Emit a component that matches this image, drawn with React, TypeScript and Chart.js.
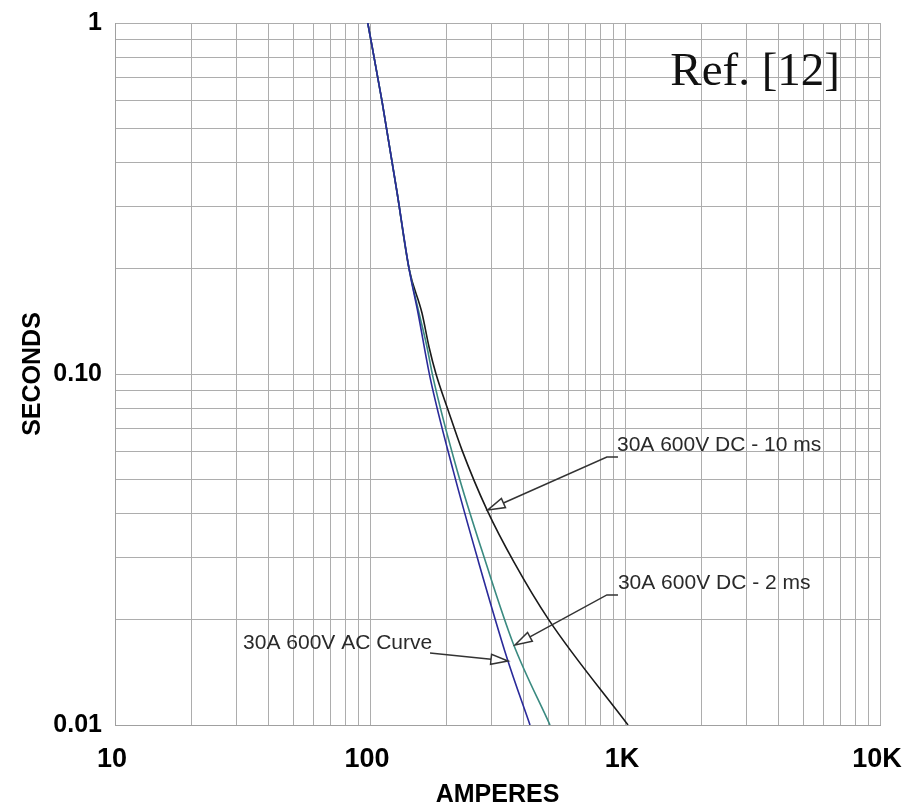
import React, { useEffect, useRef } from 'react';
import { Chart, registerables } from 'chart.js';

Chart.register(...registerables);

// ---- Axis grid values & labels ----
const xGridValues = [10, 20, 30, 40, 50, 60, 70, 80, 90, 100, 200, 300, 400, 500, 600, 700, 800, 900, 1000, 2000, 3000, 4000, 5000, 6000, 7000, 8000, 9000, 10000];
const xLabelValues = [10, 100, 1000, 10000];
const xLabelTexts = ['10', '100', '1K', '10K'];

const yGridValues = [0.01, 0.02, 0.03, 0.04, 0.05, 0.06, 0.07, 0.08, 0.09, 0.1, 0.2, 0.3, 0.4, 0.5, 0.6, 0.7, 0.8, 0.9, 1];
const yLabelValues = [0.01, 0.1, 1];
const yLabelTexts = ['0.01', '0.10', '1'];

// ---- Series: 30A 600V DC - 10 ms (black) ----
const dc10Amps = [98, 111.4, 127.6, 142.2, 159.9, 170.4, 181.5, 202.3, 229.5, 287.6, 367, 503.4, 1027.5];
const dc10Secs = [1, 0.6, 0.33, 0.2, 0.1492, 0.1194, 0.1, 0.079, 0.0607, 0.041, 0.0291, 0.0199, 0.01];

// ---- Series: 30A 600V DC - 2 ms (teal) ----
const dc2Amps = [98, 111.4, 127.6, 142.2, 155.7, 167.3, 176.6, 219.4, 282.5, 363.7, 508];
const dc2Secs = [1, 0.6, 0.33, 0.2, 0.1492, 0.1194, 0.098, 0.0533, 0.0295, 0.01713, 0.01];

// ---- Series: 30A 600V AC Curve (blue) ----
const acAmps = [98, 111.4, 127.6, 142.2, 154.3, 171.9, 211.6, 265.2, 344.5, 424.1];
const acSecs = [1, 0.6, 0.33, 0.2, 0.1492, 0.098, 0.0533, 0.0295, 0.01552, 0.01];

// ---- Annotations (data coordinates) ----
const annoLabels = ['30A 600V DC - 10 ms', '30A 600V DC - 2 ms', '30A 600V AC Curve'];
const annoTextAt = [[930, 0.0628], [938, 0.0254], [31.8, 0.01713]];
const annoPaths = [
  [[938.6, 0.058], [849, 0.058], [290, 0.041]],
  [[938.6, 0.02347], [849, 0.02347], [370.4, 0.0169]],
  [[171.9, 0.01604], [347.6, 0.01522]],
];

const refText = 'Ref. [12]';

function lookupLabel(v: number, vals: number[], texts: string[]) {
  for (let i = 0; i < vals.length; i++) {
    if (Math.abs(v - vals[i]) / vals[i] < 1e-6) return texts[i];
  }
  return '';
}

const toPts = (a: number[], s: number[]) => a.map((x, i) => ({ x, y: s[i] }));

const annotationPlugin = {
  id: 'annotations',
  afterDatasetsDraw(chart: any) {
    const { ctx, scales, chartArea } = chart;
    const xs = scales.x;
    const ys = scales.y;
    const P = (p: number[]) => [xs.getPixelForValue(p[0]), ys.getPixelForValue(p[1])];
    ctx.save();
    ctx.font = '21px "Liberation Sans", Arial, sans-serif';
    ctx.fillStyle = '#2a2a2a';
    ctx.textAlign = 'left';
    ctx.textBaseline = 'middle';
    annoLabels.forEach((lab, i) => {
      const [tx, ty] = P(annoTextAt[i]);
      ctx.fillText(lab, tx, ty);
      const pts = annoPaths[i].map(P);
      const tip = pts[pts.length - 1];
      const prev = pts[pts.length - 2];
      const dx = tip[0] - prev[0];
      const dy = tip[1] - prev[1];
      const len = Math.hypot(dx, dy);
      const ux = dx / len;
      const uy = dy / len;
      const headLen = 17;
      const halfW = 5;
      const bx = tip[0] - ux * headLen;
      const by = tip[1] - uy * headLen;
      ctx.strokeStyle = '#333';
      ctx.lineWidth = 1.5;
      ctx.beginPath();
      ctx.moveTo(pts[0][0], pts[0][1]);
      for (let k = 1; k < pts.length - 1; k++) ctx.lineTo(pts[k][0], pts[k][1]);
      ctx.lineTo(bx, by);
      ctx.stroke();
      ctx.beginPath();
      ctx.moveTo(tip[0], tip[1]);
      ctx.lineTo(bx - uy * halfW, by + ux * halfW);
      ctx.lineTo(bx + uy * halfW, by - ux * halfW);
      ctx.closePath();
      ctx.fillStyle = '#fff';
      ctx.fill();
      ctx.stroke();
      ctx.fillStyle = '#2a2a2a';
    });
    ctx.font = '47px "Liberation Serif", "Times New Roman", serif';
    ctx.fillStyle = '#111';
    ctx.textAlign = 'right';
    ctx.textBaseline = 'alphabetic';
    ctx.fillText(refText, chartArea.right - 40, chartArea.top + 62);
    ctx.restore();
  },
};

export default function App() {
  const ref = useRef<HTMLCanvasElement>(null);
  useEffect(() => {
    if (!ref.current) return;
    const gridColor = '#adadad';
    const chart = new Chart(ref.current, {
      type: 'scatter',
      data: {
        datasets: [
          {
            label: '30A 600V AC Curve',
            data: toPts(acAmps, acSecs),
            borderColor: '#2a2a9a',
            borderWidth: 1.6,
            showLine: true,
            pointRadius: 0,
            cubicInterpolationMode: 'monotone',
          },
          {
            label: '30A 600V DC - 2 ms',
            data: toPts(dc2Amps, dc2Secs),
            borderColor: '#3a8a80',
            borderWidth: 1.6,
            showLine: true,
            pointRadius: 0,
            cubicInterpolationMode: 'monotone',
          },
          {
            label: '30A 600V DC - 10 ms',
            data: toPts(dc10Amps, dc10Secs),
            borderColor: '#1a1a1a',
            borderWidth: 1.6,
            showLine: true,
            pointRadius: 0,
            cubicInterpolationMode: 'monotone',
          },
        ],
      },
      options: {
        animation: false,
        responsive: false,
        devicePixelRatio: 1,
        layout: { padding: { top: 23, right: 23, left: 0, bottom: 0 } },
        plugins: { legend: { display: false }, tooltip: { enabled: false } },
        scales: {
          x: {
            type: 'logarithmic',
            min: 10,
            max: 10000,
            afterBuildTicks: (s: any) => {
              s.ticks = xGridValues.map((v) => ({ value: v }));
            },
            afterFit: (s: any) => {
              s.height = 77;
              s.paddingLeft = 0;
              s.paddingRight = 0;
            },
            ticks: {
              autoSkip: false,
              maxRotation: 0,
              minRotation: 0,
              padding: 18,
              labelOffset: -3,
              color: '#000',
              font: { family: '"Liberation Sans", Arial, sans-serif', size: 27, weight: 'bold' },
              callback: (v: any) => lookupLabel(Number(v), xLabelValues, xLabelTexts),
            },
            grid: { color: gridColor, lineWidth: 1, drawTicks: false },
            border: { color: '#a0a0a0' },
            title: {
              display: true,
              text: 'AMPERES',
              color: '#000',
              font: { family: '"Liberation Sans", Arial, sans-serif', size: 25, weight: 'bold' },
              padding: { top: 0, bottom: -8 },
            },
          },
          y: {
            type: 'logarithmic',
            min: 0.01,
            max: 1,
            afterBuildTicks: (s: any) => {
              s.ticks = yGridValues.map((v) => ({ value: v }));
            },
            afterFit: (s: any) => {
              s.width = 115;
              s.paddingTop = 0;
              s.paddingBottom = 0;
            },
            ticks: {
              autoSkip: false,
              padding: 13,
              color: '#000',
              font: { family: '"Liberation Sans", Arial, sans-serif', size: 25, weight: 'bold' },
              callback: (v: any) => lookupLabel(Number(v), yLabelValues, yLabelTexts),
            },
            grid: { color: gridColor, lineWidth: 1, drawTicks: false },
            border: { color: '#a0a0a0' },
            title: {
              display: true,
              text: 'SECONDS',
              color: '#000',
              font: { family: '"Liberation Sans", Arial, sans-serif', size: 25, weight: 'bold' },
              padding: { top: 18, bottom: 0 },
            },
          },
        },
      },
      plugins: [annotationPlugin],
    } as any);
    return () => chart.destroy();
  }, []);
  return (
    <div style={{ position: 'fixed', left: 0, top: 0, width: 903, height: 802, background: '#fff' }}>
      <canvas ref={ref} width={903} height={802} style={{ display: 'block' }} />
    </div>
  );
}
